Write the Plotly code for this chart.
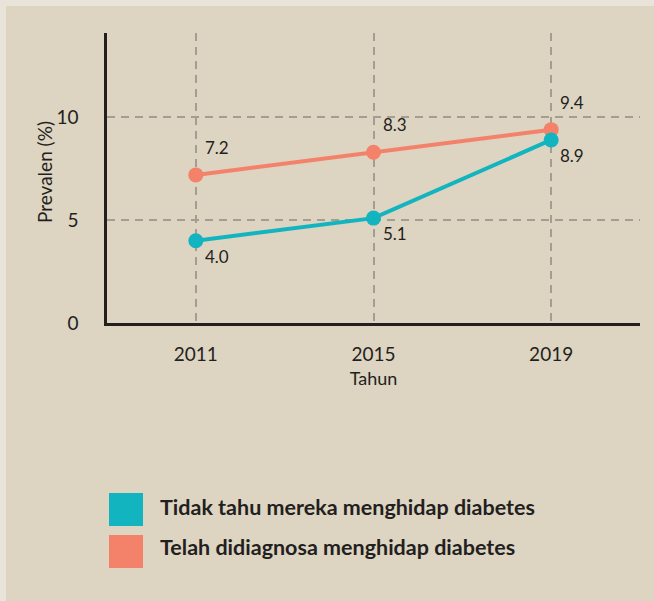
import plotly.graph_objects as go

years = [2011, 2015, 2019]
tidak_tahu = [4.0, 5.1, 8.9]
didiagnosa = [7.2, 8.3, 9.4]
legend_labels = ["Tidak tahu mereka menghidap diabetes",
                 "Telah didiagnosa menghidap diabetes"]

TEAL = "#12b5bf"
SALMON = "#f4826a"
INK = "#231f20"
PANEL = "#ddd4c2"
OUTER = "#e8e4d9"
GRID = "#a39d92"
FONT = "Lato"

fig = go.Figure()

fig.add_trace(go.Scatter(
    x=years, y=didiagnosa, mode="lines+markers",
    line=dict(color=SALMON, width=4),
    marker=dict(color=SALMON, size=15),
    cliponaxis=False, showlegend=False,
))
fig.add_trace(go.Scatter(
    x=years, y=tidak_tahu, mode="lines+markers",
    line=dict(color=TEAL, width=4),
    marker=dict(color=TEAL, size=15),
    cliponaxis=False, showlegend=False,
))

# plot area in pixels: x 107..640, y 33..323
L, R, T, B = 107, 640, 33, 323
W, H = R - L, B - T


def px_x(p):
    return (p - L) / W


def px_y(p):
    return (B - p) / H


annotations = []
# value labels: above-right for diagnosed, below-right for undiagnosed
for x, v in zip(years, didiagnosa):
    annotations.append(dict(x=x, y=v, text=f"{v:.1f}", showarrow=False,
                            xanchor="left", yanchor="bottom", xshift=7, yshift=15,
                            font=dict(family=FONT, size=17, color=INK)))
for x, v in zip(years, tidak_tahu):
    annotations.append(dict(x=x, y=v, text=f"{v:.1f}", showarrow=False,
                            xanchor="left", yanchor="top", xshift=7, yshift=-3,
                            font=dict(family=FONT, size=17, color=INK)))

# y axis title
annotations.append(dict(xref="paper", yref="paper", x=px_x(44), y=px_y(172),
                        text="Prevalen (%)", textangle=-90, showarrow=False,
                        xanchor="center", yanchor="middle",
                        font=dict(family=FONT, size=19, color=INK)))

shapes = [
    # light outer frame on top and left edges
    dict(type="rect", xref="paper", yref="paper",
         x0=px_x(0), x1=px_x(654), y0=px_y(0), y1=px_y(6),
         fillcolor=OUTER, line=dict(width=0)),
    dict(type="rect", xref="paper", yref="paper",
         x0=px_x(0), x1=px_x(6), y0=px_y(0), y1=px_y(601),
         fillcolor=OUTER, line=dict(width=0)),
]
for i, col in enumerate([TEAL, SALMON]):
    top = 493 + i * 42
    shapes.append(dict(type="rect", xref="paper", yref="paper",
                       x0=px_x(109), x1=px_x(143), y0=px_y(top), y1=px_y(top + 33),
                       fillcolor=col, line=dict(width=0)))

for i, lab in enumerate(legend_labels):
    annotations.append(dict(
        xref="paper", yref="paper", x=px_x(158), y=px_y(507 + i * 40),
        xanchor="left", yanchor="middle", text=f"<b>{lab}</b>", showarrow=False,
        font=dict(family=FONT, size=21.5, color=INK),
    ))

fig.update_layout(
    width=654, height=601,
    margin=dict(l=L, r=654 - R, t=T, b=601 - B),
    paper_bgcolor=PANEL, plot_bgcolor="rgba(0,0,0,0)",
    font=dict(family=FONT, size=19, color=INK),
    shapes=shapes, annotations=annotations,
    xaxis=dict(
        range=[2009, 2021], tickvals=years, ticks="",
        showgrid=True, gridcolor=GRID, griddash="8px,6px", gridwidth=1.5,
        showline=True, linecolor=INK, linewidth=2.5, zeroline=False,
        ticklabelstandoff=12,
        title=dict(text="Tahun", standoff=9, font=dict(size=18)),
    ),
    yaxis=dict(
        range=[0, 14.1], tickvals=[0, 5, 10], ticks="",
        showgrid=True, gridcolor=GRID, griddash="8px,6px", gridwidth=1.5,
        showline=True, linecolor=INK, linewidth=2.5, zeroline=False,
        ticklabelstandoff=22,
    ),
)

fig.write_html("out.html", config={"displayModeBar": False},
               post_script="document.body.style.margin='0';")
